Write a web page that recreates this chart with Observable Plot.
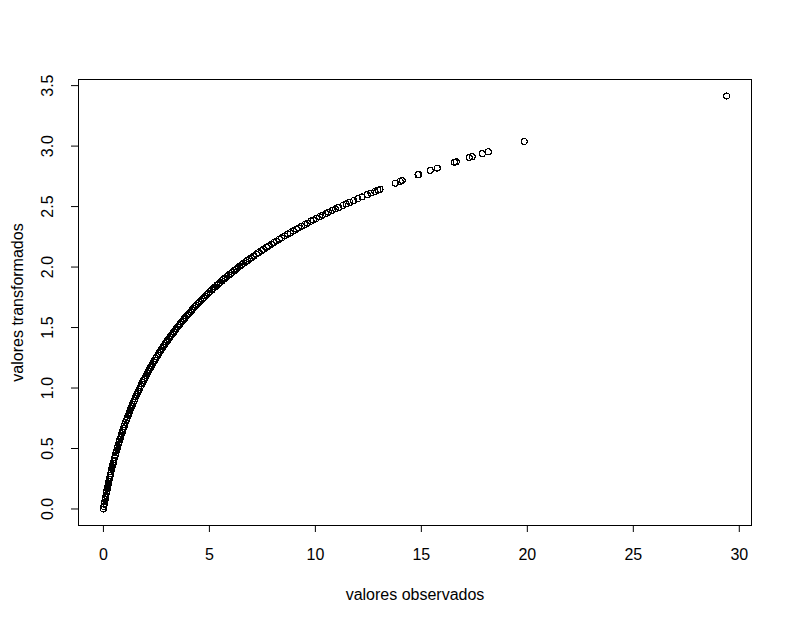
<!DOCTYPE html>
<html>
<head>
<meta charset="utf-8">
<script src="https://cdn.jsdelivr.net/npm/d3@7"></script>
<script src="https://cdn.jsdelivr.net/npm/@observablehq/plot@0.6"></script>
<style>
  html, body { margin: 0; padding: 0; background: #fff; }
  #chart { width: 792px; height: 623px; }
</style>
</head>
<body>
<div id="chart"></div>
<script>
// valores observados (x) y valores transformados (y)
const observedDense = [
  0,0.02,0.04,0.06,0.08,0.10,0.12,0.14,0.16,0.18,0.20,0.22,0.24,0.26,0.28,0.30,0.32,0.34,0.36,0.38,0.40,0.42,0.44,0.46,0.48,0.50,
  0.53,0.56,0.59,0.62,0.65,0.68,0.71,0.74,0.77,0.80,0.83,0.86,0.89,0.92,0.95,0.98,
  1.01,1.05,1.09,1.13,1.17,1.21,1.25,1.29,1.33,1.37,1.41,1.45,1.49,1.53,1.57,1.61,1.65,1.69,1.73,1.77,1.81,1.85,1.89,1.93,1.97,
  2.02,2.07,2.12,2.17,2.22,2.27,2.32,2.37,2.42,2.47,2.52,2.57,2.62,2.67,2.72,2.77,2.82,2.87,2.92,2.97,
  3.02,3.08,3.14,3.20,3.26,3.32,3.38,3.44,3.50,3.56,3.62,3.68,3.74,3.80,3.86,3.92,3.98,
  4.04,4.11,4.18,4.25,4.32,4.39,4.46,4.53,4.60,4.67,4.74,4.81,4.88,4.95,
  5.03,5.11,5.19,5.27,5.35,5.43,5.51,5.59,5.67,5.75,5.83,5.91,5.99,
  6.08,6.17,6.26,6.35,6.44,6.53,6.62,6.71,6.80,6.89,6.98
];
const transformedDense = [
  0,0.020,0.039,0.058,0.077,0.095,0.113,0.131,0.148,0.166,0.182,0.199,0.215,0.231,0.247,0.262,0.278,0.293,0.308,0.322,0.337,0.351,0.365,0.378,0.392,0.405,
  0.425,0.445,0.464,0.482,0.501,0.519,0.537,0.554,0.571,0.588,0.604,0.621,0.637,0.652,0.668,0.683,
  0.698,0.718,0.737,0.756,0.775,0.793,0.811,0.829,0.846,0.863,0.880,0.896,0.912,0.928,0.944,0.959,0.975,0.990,1.004,1.019,1.033,1.047,1.061,1.075,1.089,
  1.105,1.122,1.138,1.154,1.169,1.185,1.200,1.215,1.230,1.244,1.259,1.273,1.287,1.300,1.314,1.327,1.340,1.353,1.366,1.379,
  1.391,1.406,1.421,1.435,1.449,1.463,1.477,1.491,1.504,1.517,1.530,1.543,1.556,1.569,1.581,1.593,1.605,
  1.617,1.631,1.645,1.658,1.672,1.685,1.697,1.710,1.723,1.735,1.748,1.760,1.772,1.783,
  1.797,1.810,1.823,1.836,1.849,1.861,1.873,1.886,1.898,1.910,1.921,1.933,1.945,
  1.957,1.970,1.982,1.995,2.007,2.019,2.031,2.043,2.054,2.066,2.077
];
const observedMid = [
  7.10,7.22,7.31,7.45,7.56,7.70,7.79,7.93,8.05,8.17,8.30,8.41,8.55,8.70,8.82,8.96,9.10,9.21,9.35,9.50,9.62,
  9.78,9.90,10.05,10.20,10.34,10.50,10.62,10.80,10.95,11.10,11.30,11.45,11.62,11.80,12.00,12.20,12.45,12.62,12.80,12.95,13.05
];
const transformedMid = [
  2.092,2.107,2.118,2.134,2.147,2.163,2.174,2.189,2.203,2.216,2.230,2.242,2.257,2.272,2.284,2.299,2.313,2.323,2.337,2.351,2.363,
  2.378,2.389,2.402,2.416,2.428,2.442,2.453,2.468,2.481,2.493,2.510,2.522,2.535,2.549,2.565,2.580,2.599,2.612,2.625,2.636,2.643
];
const observedSparse = [13.77,14.00,14.10,14.84,14.88,15.42,15.75,16.56,16.65,17.26,17.40,17.88,18.16,19.86,29.40];
const transformedSparse = [2.693,2.708,2.715,2.763,2.765,2.799,2.818,2.866,2.871,2.905,2.912,2.938,2.953,3.038,3.414];

const xTicks = [0, 5, 10, 15, 20, 25, 30];
const yTicks = [0, 0.5, 1, 1.5, 2, 2.5, 3, 3.5];
const xLabel = "valores observados";
const yLabel = "valores transformados";

const points = [
  ...observedDense.map((x, i) => ({x, y: transformedDense[i]})),
  ...observedMid.map((x, i) => ({x, y: transformedMid[i]})),
  ...observedSparse.map((x, i) => ({x, y: transformedSparse[i]}))
];

const xExt = d3.extent(points, d => d.x);
const yExt = d3.extent(points, d => d.y);
const xPad = (xExt[1] - xExt[0]) * 0.04;
const yPad = (yExt[1] - yExt[0]) * 0.04;

const chart = Plot.plot({
  width: 792,
  height: 623,
  marginLeft: 78,
  marginRight: 41,
  marginTop: 79,
  marginBottom: 98,
  style: {fontFamily: "'Liberation Sans', Arial, sans-serif", fontSize: "16px", background: "#fff", color: "#000"},
  x: {domain: [xExt[0] - xPad, xExt[1] + xPad]},
  y: {domain: [yExt[0] - yPad, yExt[1] + yPad]},
  marks: [
    Plot.frame({stroke: "#000", strokeWidth: 1}),
    Plot.axisX({ticks: xTicks, tickSize: 7, tickPadding: 16, tickFormat: d => String(d), fontSize: 16, label: null, stroke: "#000"}),
    Plot.axisY({ticks: yTicks, tickSize: 7, tickFormat: () => "", label: null, stroke: "#000"}),
    Plot.text(yTicks, {y: d => d, text: d => d.toFixed(1), frameAnchor: "left", dx: -26, rotate: -90, textAnchor: "middle", lineAnchor: "bottom", fontSize: 16, fill: "#000"}),
    Plot.text([xLabel], {text: d => d, frameAnchor: "bottom", dy: 74, lineAnchor: "bottom", fontSize: 16, fill: "#000"}),
    Plot.text([yLabel], {text: d => d, frameAnchor: "left", dx: -56, rotate: -90, textAnchor: "middle", lineAnchor: "bottom", fontSize: 16, fill: "#000"}),
    Plot.dot(points, {x: "x", y: "y", r: 3, stroke: "#000", strokeWidth: 1.1, fill: "none", shapeRendering: "crispEdges"})
  ]
});
document.getElementById("chart").appendChild(chart);
</script>
</body>
</html>
